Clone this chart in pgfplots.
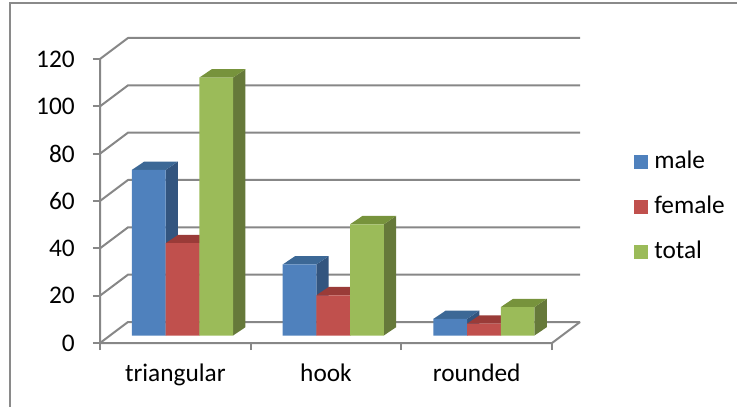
\documentclass[border=0pt]{standalone}
\usepackage{pgfplots}
\pgfplotsset{compat=1.18}
\usepackage{pgfplotstable}
\usepackage{fontspec}
\setmainfont{Carlito}

\definecolor{mfront}{HTML}{4F81BD}
\definecolor{mside}{HTML}{33557F}
\definecolor{mtop}{HTML}{3C6896}
\definecolor{ffront}{HTML}{C0504D}
\definecolor{fside}{HTML}{8B3331}
\definecolor{ftop}{HTML}{9A3B38}
\definecolor{tfront}{HTML}{9BBB59}
\definecolor{tside}{HTML}{66793A}
\definecolor{ttop}{HTML}{77933C}
\definecolor{gridgray}{HTML}{878787}
\definecolor{framegray}{HTML}{8A8A8A}

\pgfplotstableread{
idx male female total
0 70 39 109
1 30 17 47
2 7 5 12
}\datatable

\def\F{-3.169}\def\D{8.873}\def\DX{0.1858}
\def\bw{0.2237}\def\ddx{0.0816}\def\ddy{3.5}
\newcommand\myfont{\fontsize{19}{22}\selectfont}

% side and top faces of the bars of one series
\newcommand\barfaces[4]{%
  \foreach \r in {0,1,2} {%
    \pgfplotstablegetelem{\r}{#1}\of\datatable
    \let\v\pgfplotsretval
    \pgfmathsetmacro\xl{\r+#2-\bw/2}%
    \pgfmathsetmacro\xr{\r+#2+\bw/2}%
    \pgfmathsetmacro\xlb{\xl+\ddx}%
    \pgfmathsetmacro\xrb{\xr+\ddx}%
    \pgfmathsetmacro\vt{\v+\ddy}%
    \edef\tmp{\noexpand\addplot[fill=#3, draw=none, forget plot] coordinates {(\xr,0) (\xrb,\ddy) (\xrb,\vt) (\xr,\v)};
      \noexpand\addplot[fill=#4, draw=none, forget plot] coordinates {(\xl,\v) (\xlb,\vt) (\xrb,\vt) (\xr,\v)};}%
    \tmp
  }%
}

\begin{document}
\begin{tikzpicture}
\useasboundingbox (0,0) rectangle (552.75pt,304.5pt);
\draw[framegray, line width=0.8pt] (7.5pt,-2pt) -- (7.5pt,302.25pt) -- (560pt,302.25pt);
\begin{axis}[
  at={(75pt,47.25pt)}, anchor=south west,
  scale only axis, width=360pt, height=228.75pt,
  xmin=-0.5, xmax=2.6858, ymin=-3.169, ymax=125.704,
  axis lines=left, axis line style={draw=none},
  clip=false,
  tick align=outside, major tick length=5.25pt,
  tick style={draw=gridgray, line width=1.5pt},
  every tick label/.append style={font=\myfont},
  xtick={-0.5,0.5,1.5,2.5}, xticklabels={},
  extra x ticks={0,1,2}, extra x tick labels={triangular,hook,rounded},
  extra x tick style={major tick length=0pt, tick style={draw=none},
     xticklabel style={anchor=base, yshift=-29pt}},
  ytick={-3.169,16.831,36.831,56.831,76.831,96.831,116.831},
  yticklabels={0,20,40,60,80,100,120},
  yticklabel style={anchor=east, inner sep=0pt, xshift=-13.5pt},
  legend style={at={(axis description cs:1.1125,0.4454)}, anchor=west,
    draw=none, fill=none, inner sep=0pt, row sep=16.75pt, column sep=4.7pt,
    font=\myfont, nodes={inner sep=0pt, text height=13pt, text depth=4pt}},
  legend cell align=left,
  legend image code/.code={\fill[#1,draw=none] (0pt,-5.15pt) rectangle (10.3pt,5.15pt);},
]
\pgfplotsinvokeforeach{0,20,40,60,80,100,120}{
  \draw[gridgray, line width=1.5pt, line join=round] (axis cs:-0.5,\F+#1) -- (axis cs:-0.5+\DX,\F+\D+#1) -- (axis cs:2.5+\DX,\F+\D+#1);
}
\draw[gridgray, line width=1.5pt, line join=round] (axis cs:-0.5,\F+120) -- (axis cs:-0.5,\F) -- (axis cs:2.5,\F) -- (axis cs:2.5+\DX,\F+\D);

\barfaces{male}{-0.1758}{mside}{mtop}
\addplot[ybar, bar width=\bw, bar shift=-0.1758, fill=mfront, draw=none] table[x=idx,y=male]{\datatable};
\addlegendentry{male}
\barfaces{female}{0.0479}{fside}{ftop}
\addplot[ybar, bar width=\bw, bar shift=0.0479, fill=ffront, draw=none] table[x=idx,y=female]{\datatable};
\addlegendentry{female}
\barfaces{total}{0.2716}{tside}{ttop}
\addplot[ybar, bar width=\bw, bar shift=0.2716, fill=tfront, draw=none] table[x=idx,y=total]{\datatable};
\addlegendentry{total}
\end{axis}
\end{tikzpicture}
\end{document}
